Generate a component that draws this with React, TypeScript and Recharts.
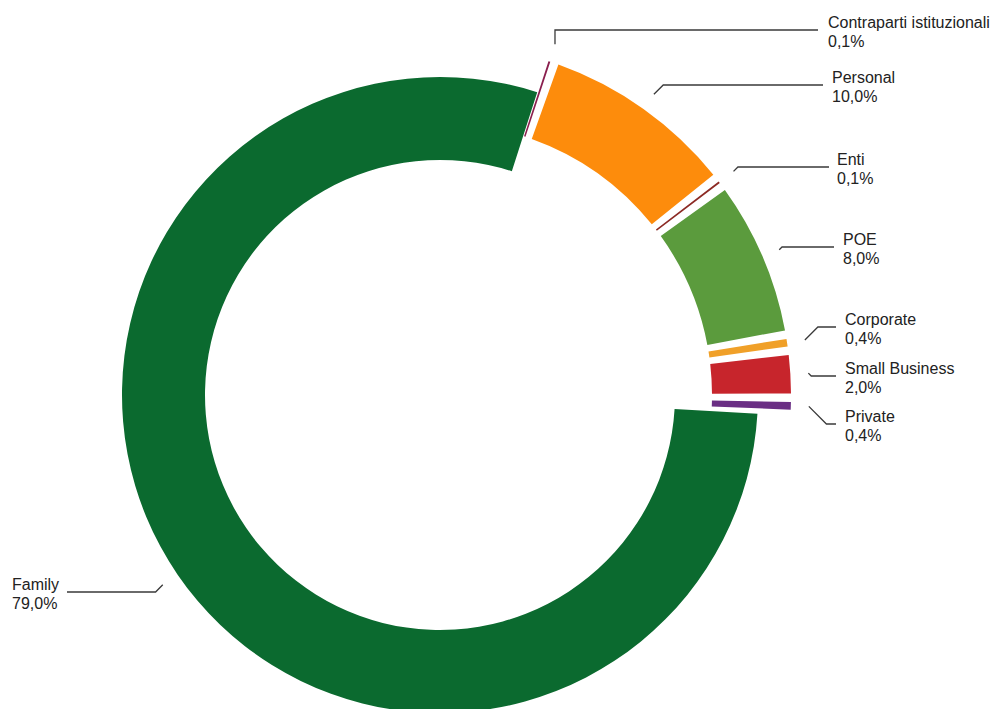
import { Cell, Pie, PieChart } from 'recharts'

const segments = [
  'Contraparti istituzionali',
  'Personal',
  'Enti',
  'POE',
  'Corporate',
  'Small Business',
  'Private',
  'Family',
]
const shares = [0.1, 10.0, 0.1, 8.0, 0.4, 2.0, 0.4, 79.0]

const colors: Record<string, string> = {
  'Contraparti istituzionali': '#8a1f4e',
  Personal: '#fd8c0c',
  Enti: '#8c2a24',
  POE: '#5b9b3d',
  Corporate: '#f0a028',
  'Small Business': '#c7252c',
  Private: '#6a2e84',
  Family: '#0b6a2f',
}

// where each leader line ends up (label row y, end of horizontal stroke, text x)
const labelLayout: Record<string, { y: number; end: number; textX: number; vertical?: boolean }> = {
  'Contraparti istituzionali': { y: 30, end: 818, textX: 828, vertical: true },
  Personal: { y: 85, end: 823, textX: 832 },
  Enti: { y: 167, end: 829, textX: 837 },
  POE: { y: 247, end: 834, textX: 843 },
  Corporate: { y: 327, end: 836, textX: 845 },
  'Small Business': { y: 376, end: 836, textX: 845 },
  Private: { y: 424, end: 836, textX: 845 },
  Family: { y: 592, end: 67, textX: 12 },
}

const rows = segments.map((name, i) => ({ name, value: shares[i] }))
const familyRows = rows.filter((r) => r.name === 'Family')
const otherRows = rows.filter((r) => r.name !== 'Family')

const total = shares.reduce((a, b) => a + b, 0)
const familySweep = (360 * familyRows[0].value) / total
const FAMILY_START = -3.4
const FAMILY_END = FAMILY_START - familySweep
const GROUP_START = FAMILY_END + 360 - 0.2
const GROUP_END = FAMILY_START + 1.0

const CX = 435
const CY = 390
const RAD = Math.PI / 180

const fmt = (v: number) => v.toFixed(1).replace('.', ',') + '%'

function renderLabel(props: any) {
  const { cx, cy, midAngle, outerRadius, name, value } = props
  const lay = labelLayout[name]
  if (!lay) return null
  const r = outerRadius + 18
  const sx = cx + r * Math.cos(-midAngle * RAD)
  const sy = cy + r * Math.sin(-midAngle * RAD)
  const right = lay.end > sx
  let ex = sx
  if (!lay.vertical) ex = sx + (right ? 1 : -1) * Math.abs(sy - lay.y)
  return (
    <g key={`lbl-${name}`}>
      <polyline
        points={`${sx},${sy} ${ex},${lay.y} ${lay.end},${lay.y}`}
        fill="none"
        stroke="#3a3a3a"
        strokeWidth={1.3}
      />
      <text
        x={lay.textX}
        y={lay.y - 2}
        fill="#222"
        fontSize={16}
        fontFamily="'Liberation Sans', Arial, Helvetica, sans-serif"
        textAnchor="start"
      >
        <tspan x={lay.textX}>{name}</tspan>
        <tspan x={lay.textX} dy={18.5}>
          {fmt(value)}
        </tspan>
      </text>
    </g>
  )
}

export default function App() {
  return (
    <div style={{ position: 'absolute', left: 0, top: 0, width: 995, height: 709, background: '#fff' }}>
      <PieChart width={995} height={709}>
        <Pie
          data={familyRows}
          dataKey="value"
          nameKey="name"
          cx={CX}
          cy={CY}
          innerRadius={235}
          outerRadius={318}
          startAngle={FAMILY_START}
          endAngle={FAMILY_END}
          stroke="none"
          label={renderLabel}
          labelLine={false}
          isAnimationActive={false}
        >
          {familyRows.map((r) => (
            <Cell key={r.name} fill={colors[r.name]} />
          ))}
        </Pie>
        <Pie
          data={otherRows}
          dataKey="value"
          nameKey="name"
          cx={CX}
          cy={CY}
          innerRadius={272}
          outerRadius={351}
          startAngle={GROUP_START}
          endAngle={GROUP_END}
          paddingAngle={1.4}
          stroke="none"
          label={renderLabel}
          labelLine={false}
          isAnimationActive={false}
        >
          {otherRows.map((r) => (
            <Cell key={r.name} fill={colors[r.name]} />
          ))}
        </Pie>
      </PieChart>
    </div>
  )
}
